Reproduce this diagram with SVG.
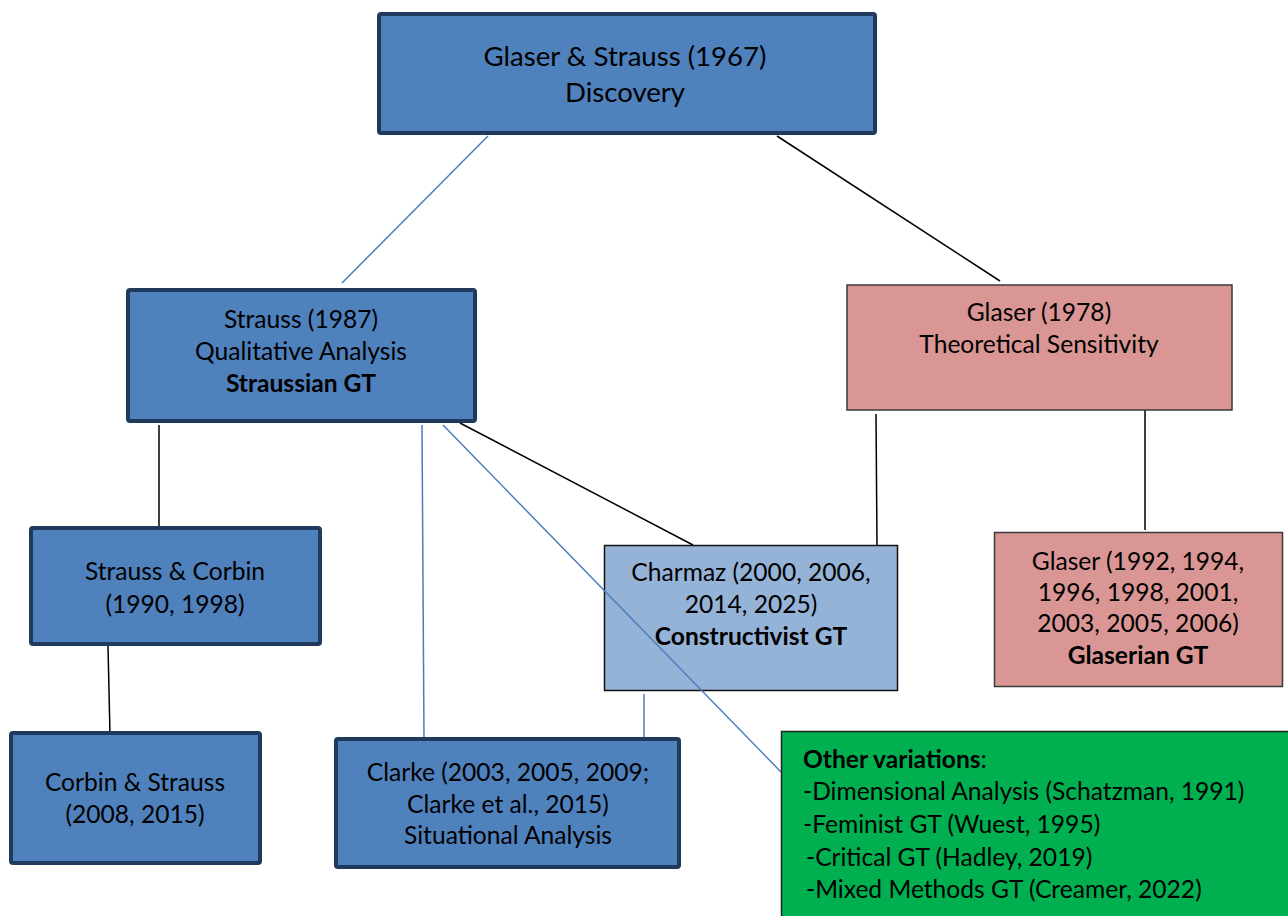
<svg xmlns="http://www.w3.org/2000/svg" width="1288" height="916" viewBox="0 0 1288 916">
<style>
.thick{fill:#4f81bd;stroke:#1f3a5c;stroke-width:4}
.pink{fill:#d99694;stroke:#3a3a3a;stroke-width:1.5}
.lblue{fill:#95b3d7;stroke:#111;stroke-width:1.5}
.green{fill:#00b050;stroke:#222;stroke-width:1.5}
text{font-family:Lato,"Liberation Sans",sans-serif;font-size:24.6px;fill:#000}
.c{text-anchor:middle}
.big{font-size:27.6px}
.b{font-weight:bold}
.bl{stroke:#4a7ebb;stroke-width:1.5;fill:none}
.bk{stroke:#000;stroke-width:1.5;fill:none}
</style>
<rect width="1288" height="916" fill="#fff"/>
<g id="n-charmaz">
<rect class="lblue" x="604.5" y="545.5" width="293" height="145"/>
<text class="c" x="751" y="581">Charmaz (2000, 2006,</text>
<text class="c" x="751" y="613">2014, 2025)</text>
<text class="c b" x="751" y="645">Constructivist GT</text>
</g>
<g id="connectors">
<line class="bl" x1="488" y1="136" x2="342" y2="283"/>
<line class="bk" x1="777" y1="136" x2="1000" y2="281"/>
<line class="bk" x1="159" y1="425" x2="159" y2="526"/>
<line class="bl" x1="422" y1="425" x2="424" y2="739"/>
<line class="bl" x1="443" y1="425" x2="781" y2="772"/>
<line class="bk" x1="460" y1="423" x2="693" y2="545"/>
<line class="bk" x1="876" y1="414" x2="877" y2="545"/>
<line class="bk" x1="1145" y1="410" x2="1145" y2="530"/>
<line class="bk" x1="108" y1="646" x2="110" y2="735"/>
<line class="bl" x1="644" y1="694" x2="644" y2="739"/>
</g>
<g id="n-discovery">
<rect class="thick" x="379" y="14" width="496" height="119" rx="2"/>
<text class="c big" x="625" y="66">Glaser &amp; Strauss (1967)</text>
<text class="c big" x="625" y="102">Discovery</text>
</g>
<g id="n-strauss">
<rect class="thick" x="128" y="290" width="347" height="131" rx="2"/>
<text class="c" x="301" y="328">Strauss (1987)</text>
<text class="c" x="301" y="360">Qualitative Analysis</text>
<text class="c b" x="301" y="392">Straussian GT</text>
</g>
<g id="n-glaser1978">
<rect class="pink" x="847" y="285" width="385" height="125"/>
<text class="c" x="1039" y="321">Glaser (1978)</text>
<text class="c" x="1039" y="353">Theoretical Sensitivity</text>
</g>
<g id="n-strausscorbin">
<rect class="thick" x="31" y="528" width="289" height="116" rx="2"/>
<text class="c" x="175" y="580">Strauss &amp; Corbin</text>
<text class="c" x="175" y="613">(1990, 1998)</text>
</g>
<g id="n-glaserian">
<rect class="pink" x="994.5" y="532.5" width="288" height="154"/>
<text class="c" x="1138" y="570">Glaser (1992, 1994,</text>
<text class="c" x="1138" y="601">1996, 1998, 2001,</text>
<text class="c" x="1138" y="632">2003, 2005, 2006)</text>
<text class="c b" x="1138" y="664">Glaserian GT</text>
</g>
<g id="n-corbinstrauss">
<rect class="thick" x="11" y="733" width="249" height="130" rx="2"/>
<text class="c" x="135" y="791">Corbin &amp; Strauss</text>
<text class="c" x="135" y="823">(2008, 2015)</text>
</g>
<g id="n-clarke">
<rect class="thick" x="336" y="739" width="343" height="128" rx="2"/>
<text class="c" x="508" y="781">Clarke (2003, 2005, 2009;</text>
<text class="c" x="508" y="813">Clarke et al., 2015)</text>
<text class="c" x="508" y="844">Situational Analysis</text>
</g>
<g id="n-other">
<rect class="green" x="781.5" y="731.5" width="520" height="200"/>
<text x="803" y="768"><tspan class="b">Other variations</tspan>:</text>
<text x="803" y="800">-Dimensional Analysis (Schatzman, 1991)</text>
<text x="803" y="833">-Feminist GT (Wuest, 1995)</text>
<text x="806" y="866">-Critical GT (Hadley, 2019)</text>
<text x="806" y="898">-Mixed Methods GT (Creamer, 2022)</text>
</g>
</svg>
